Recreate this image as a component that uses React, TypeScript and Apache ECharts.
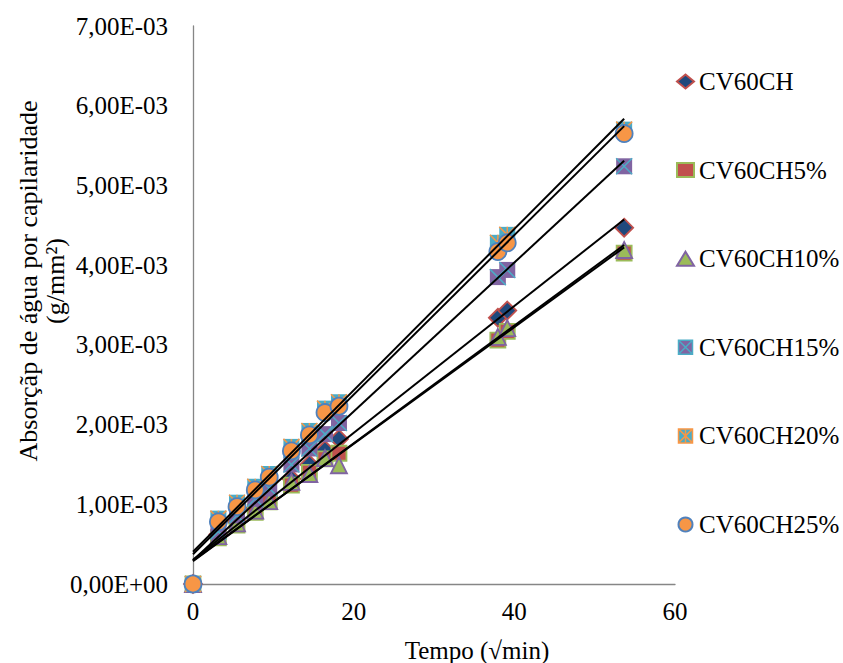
import React, { useEffect, useRef } from "react";
import * as echarts from "echarts";

// √min
const tempo = [0, 3.16, 5.48, 7.75, 9.49, 12.25, 14.49, 16.43, 18.17, 37.95, 39.12, 53.67];

// absorção (g/mm²) ×1e-3
const cv60ch = [0, 0.62, 0.78, 0.95, 1.08, 1.32, 1.5, 1.68, 1.82, 3.34, 3.43, 4.47];
const cv60ch5 = [0, 0.58, 0.74, 0.9, 1.03, 1.24, 1.4, 1.57, 1.64, 3.06, 3.17, 4.15];
const cv60ch10 = [0, 0.6, 0.76, 0.92, 1.04, 1.28, 1.38, 1.58, 1.49, 3.1, 3.21, 4.19];
const cv60ch15 = [0, 0.66, 0.86, 1.07, 1.2, 1.5, 1.7, 1.88, 2.02, 3.85, 3.94, 5.24];
const cv60ch20 = [0, 0.82, 1.02, 1.22, 1.38, 1.72, 1.92, 2.2, 2.28, 4.28, 4.38, 5.7];
const cv60ch25 = [0, 0.78, 0.97, 1.18, 1.34, 1.67, 1.87, 2.15, 2.23, 4.17, 4.28, 5.65];

const seriesNames = ["CV60CH", "CV60CH5%", "CV60CH10%", "CV60CH15%", "CV60CH20%", "CV60CH25%"];
const xTitle = "Tempo (√min)";
const yTitle = "Absorçãp de água por capilaridade\n(g/mm²)";

const FONT = '"Liberation Serif", "Times New Roman", serif';

const BLUE = "#4F81BD";
const RED = "#C0504D";
const GREEN = "#9BBB59";
const PURPLE = "#8064A2";
const AQUA = "#4BACC6";
const ORANGE = "#F79646";
const NAVY = "#1F497D";

const X_PATH = "path://M0,0L10,10M10,0L0,10";
const STAR_PATH = "path://M5,0L5,10M0,0L10,10M10,0L0,10";
const SQ_X_PATH = "path://M0,0H10V10H0ZM0,0L10,10M10,0L0,10";
const SQ_STAR_PATH = "path://M0,0H10V10H0ZM5,0L5,10M0,0L10,10M10,0L0,10";

function toPts(vals: number[]) {
  return tempo.map((t, i) => [t, vals[i] * 1e-3]);
}

function trend(vals: number[]) {
  const ys = vals.map((v) => v * 1e-3);
  const n = tempo.length;
  const mx = tempo.reduce((a, b) => a + b, 0) / n;
  const my = ys.reduce((a, b) => a + b, 0) / n;
  let sxy = 0;
  let sxx = 0;
  for (let i = 0; i < n; i++) {
    sxy += (tempo[i] - mx) * (ys[i] - my);
    sxx += (tempo[i] - mx) * (tempo[i] - mx);
  }
  const m = sxy / sxx;
  const b = my - m * mx;
  const x0 = Math.min(...tempo);
  const x1 = Math.max(...tempo);
  return [
    [x0, b + m * x0],
    [x1, b + m * x1],
  ];
}

function sci(v: number) {
  if (Math.abs(v) < 1e-12) return "0,00E+00";
  const e = Math.floor(Math.log10(Math.abs(v)) + 1e-9);
  const m = v / Math.pow(10, e);
  const s = m.toFixed(2).replace(".", ",");
  const ea = Math.abs(e);
  return s + "E" + (e < 0 ? "-" : "+") + (ea < 10 ? "0" : "") + ea;
}

export default function App() {
  const ref = useRef<HTMLDivElement>(null);
  useEffect(() => {
    document.body.style.margin = "0";
    if (!ref.current) return;
    const chart = echarts.init(ref.current, null, { renderer: "svg" });

    const scatter = (name: string, vals: number[], symbol: string, size: number, color: string, border: string, bw: number) => ({
      type: "scatter",
      name,
      data: toPts(vals),
      symbol,
      symbolSize: size,
      itemStyle: { color, borderColor: border, borderWidth: bw, opacity: 1 },
      z: 2,
    });

    const allVals = [cv60ch, cv60ch5, cv60ch10, cv60ch15, cv60ch20, cv60ch25];
    const trendSeries = allVals.map((vals, i) => ({
      type: "line",
      name: "trend" + i,
      data: trend(vals),
      symbol: "none",
      lineStyle: { color: "#000", width: 2 },
      z: 5,
      silent: true,
    }));

    chart.setOption({
      animation: false,
      grid: { left: 193, top: 26, width: 482, height: 558, containLabel: false },
      xAxis: {
        type: "value",
        min: 0,
        max: 60,
        interval: 20,
        axisLine: { show: true, lineStyle: { color: "#868686", width: 1.3 } },
        axisTick: { show: false },
        splitLine: { show: false },
        axisLabel: { fontFamily: FONT, fontSize: 25, color: "#000", margin: 15 },
      },
      yAxis: {
        type: "value",
        min: 0,
        max: 0.007,
        interval: 0.001,
        axisLine: { show: true, lineStyle: { color: "#868686", width: 1.3 } },
        axisTick: { show: false },
        splitLine: { show: false },
        axisLabel: { fontFamily: FONT, fontSize: 25, color: "#000", margin: 25, formatter: (v: number) => sci(v) },
      },
      legend: {
        orient: "vertical",
        left: 671,
        top: 63,
        itemWidth: 17,
        itemHeight: 14,
        itemGap: 61.6,
        textStyle: { fontFamily: FONT, fontSize: 25, color: "#000", lineHeight: 27 },
        data: [
          { name: seriesNames[0], icon: "diamond" },
          { name: seriesNames[1], icon: "rect" },
          { name: seriesNames[2], icon: "triangle" },
          { name: seriesNames[3], icon: SQ_X_PATH, itemStyle: { color: PURPLE, borderColor: AQUA, borderWidth: 1.5 } },
          { name: seriesNames[4], icon: SQ_STAR_PATH, itemStyle: { color: AQUA, borderColor: ORANGE, borderWidth: 1.5 } },
          { name: seriesNames[5], icon: "circle" },
        ],
      },
      graphic: [
        {
          type: "text",
          x: 42,
          y: 281,
          rotation: Math.PI / 2,
          style: {
            text: yTitle,
            fontFamily: FONT,
            fontSize: 26,
            lineHeight: 27,
            fill: "#000",
            textAlign: "center",
            textVerticalAlign: "middle",
          },
        },
        {
          type: "text",
          x: 477,
          y: 650,
          style: {
            text: xTitle,
            fontFamily: FONT,
            fontSize: 25,
            fill: "#000",
            textAlign: "center",
            textVerticalAlign: "middle",
          },
        },
      ],
      series: [
        scatter(seriesNames[0], cv60ch, "diamond", 18, NAVY, RED, 1.8),
        scatter(seriesNames[1], cv60ch5, "rect", 15, RED, GREEN, 1.8),
        scatter(seriesNames[2], cv60ch10, "triangle", 16, GREEN, PURPLE, 1.8),
        scatter(seriesNames[3], cv60ch15, "rect", 16, PURPLE, PURPLE, 0),
        scatter(seriesNames[3], cv60ch15, X_PATH, 16, "rgba(0,0,0,0)", AQUA, 1.5),
        scatter(seriesNames[4], cv60ch20, "rect", 16, AQUA, AQUA, 0),
        scatter(seriesNames[4], cv60ch20, STAR_PATH, 16, "rgba(0,0,0,0)", ORANGE, 1.5),
        scatter(seriesNames[5], cv60ch25, "circle", 17, ORANGE, BLUE, 1.8),
        ...trendSeries,
      ],
    });
    return () => chart.dispose();
  }, []);
  return <div ref={ref} style={{ width: 843, height: 663 }} />;
}
